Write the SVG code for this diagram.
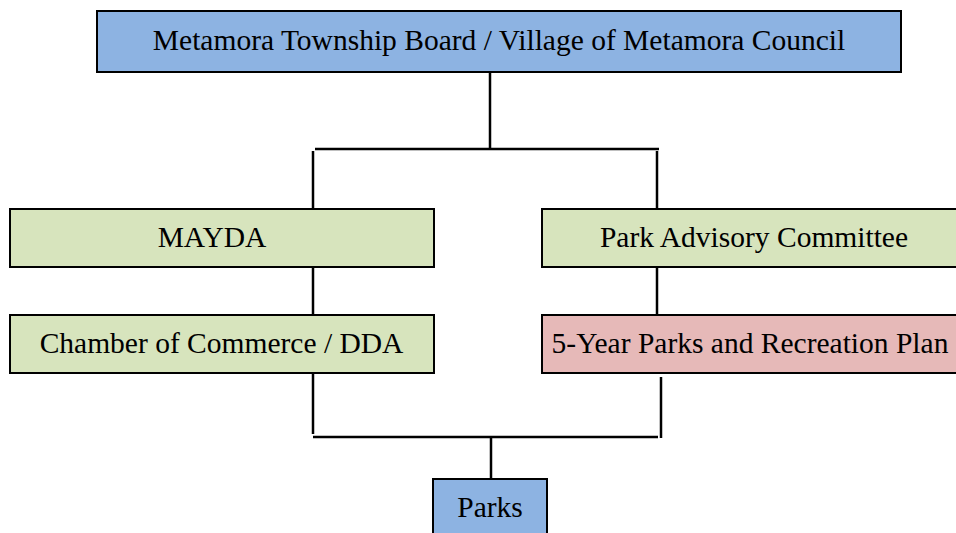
<svg xmlns="http://www.w3.org/2000/svg" width="956" height="533" viewBox="0 0 956 533">
<style>
.box{stroke:#000;stroke-width:2}
.blue{fill:#8DB3E2}
.green{fill:#D7E4BD}
.pink{fill:#E6B9B8}
text{font-family:"Liberation Serif","Times New Roman",serif;font-size:29.5px;fill:#000;text-anchor:middle}
.c{stroke:#000;stroke-width:2.5;fill:none}
</style>
<rect width="956" height="533" fill="#fff"/>
<g id="connectors">
<line class="c" x1="490" y1="72" x2="490" y2="149"/>
<line class="c" x1="315" y1="149" x2="659" y2="149"/>
<line class="c" x1="313" y1="151" x2="313" y2="209"/>
<line class="c" x1="657" y1="151" x2="657" y2="209"/>
<line class="c" x1="313" y1="267" x2="313" y2="315"/>
<line class="c" x1="657" y1="267" x2="657" y2="315"/>
<line class="c" x1="313" y1="373" x2="313" y2="434"/>
<line class="c" x1="661" y1="377" x2="661" y2="438"/>
<line class="c" x1="313" y1="437" x2="658" y2="437"/>
<line class="c" x1="491" y1="437" x2="491" y2="479"/>
</g>
<g id="board">
<rect class="box blue" x="97" y="11" width="804" height="61"/>
<text x="499" y="50">Metamora Township Board / Village of Metamora Council</text>
</g>
<g id="mayda">
<rect class="box green" x="10" y="209" width="424" height="58"/>
<text x="212" y="247">MAYDA</text>
</g>
<g id="chamber">
<rect class="box green" x="10" y="315" width="424" height="58"/>
<text x="221.5" y="353">Chamber of Commerce / DDA</text>
</g>
<g id="pac">
<rect class="box green" x="542" y="209" width="424" height="58"/>
<text x="754" y="247">Park Advisory Committee</text>
</g>
<g id="plan">
<rect class="box pink" x="542" y="315" width="424" height="58"/>
<text x="750" y="353">5-Year Parks and Recreation Plan</text>
</g>
<g id="parks">
<rect class="box blue" x="433" y="479" width="114" height="64"/>
<text x="490" y="517">Parks</text>
</g>
</svg>
